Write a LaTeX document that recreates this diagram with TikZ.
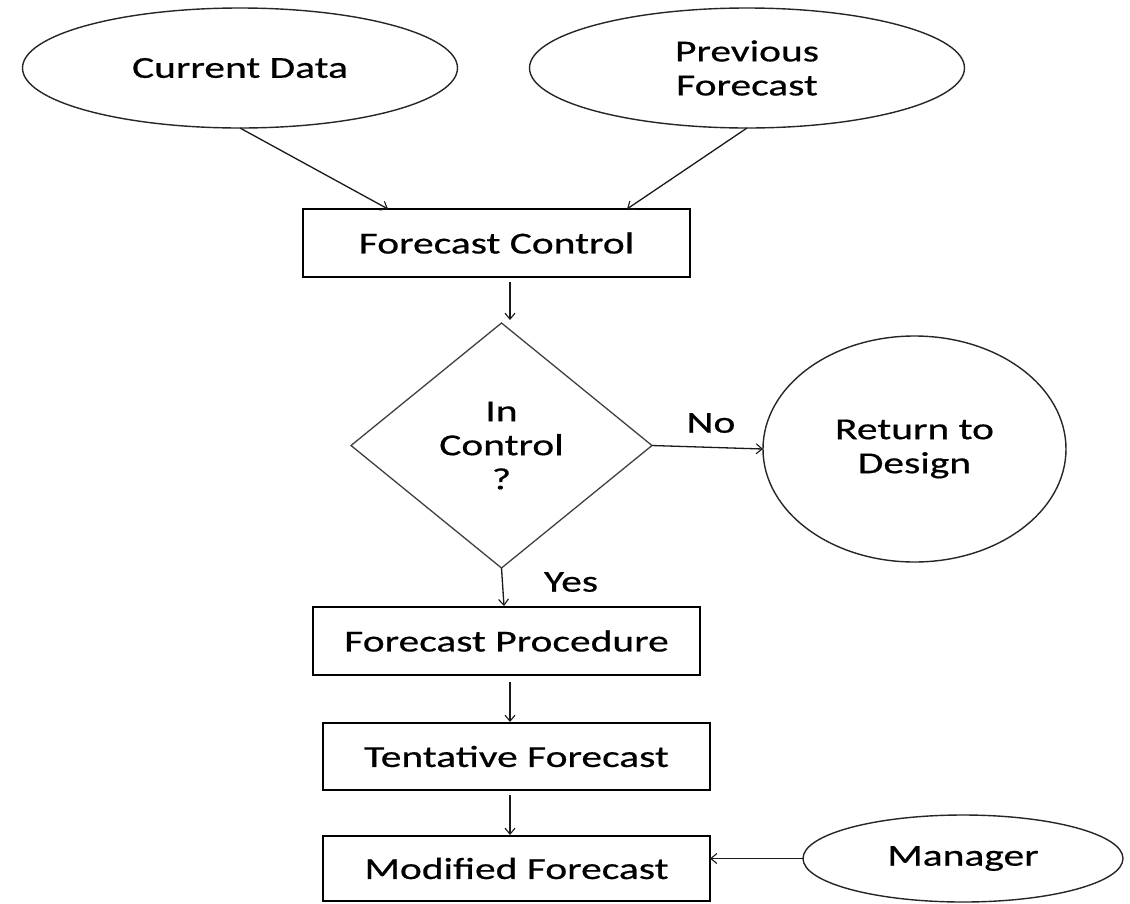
\documentclass[tikz,border=0pt]{standalone}
\usepackage{fontspec}
\setmainfont{Carlito}[FakeStretch=1.36,FakeBold=0.6]
\usetikzlibrary{shapes.geometric,arrows.meta}

\tikzset{
  lbl/.style={font=\fontsize{30.5}{34}\selectfont, text=black, align=center},
  boxnode/.style={lbl, draw=black, line width=1.5pt, rectangle, inner sep=0pt, outer sep=0pt,
                  minimum width=387pt},
  ovalnode/.style={lbl, draw=black!85, line width=1.4pt, ellipse, inner sep=0pt, outer sep=0pt},
  decision/.style={lbl, draw=black!75, line width=1.3pt, diamond, inner sep=0pt, outer sep=0pt,
                   minimum width=301pt, minimum height=245pt},
  arr/.style={draw=black!90, line width=1.3pt, -{Straight Barb[length=6pt,width=10pt,line width=1.1pt]}},
}

\begin{document}
\begin{tikzpicture}[x=1pt,y=-1pt]
  \useasboundingbox[fill=white] (0,0) rectangle (1130,903);

  % inputs
  \node[ovalnode, minimum width=435pt, minimum height=120pt] (cd) at (240,68) {Current Data};
  \node[ovalnode, minimum width=435pt, minimum height=120pt] (pf) at (747,68) {Previous\\Forecast};

  % control stage
  \node[boxnode, minimum height=68pt] (fc) at (496.5,243) {Forecast Control};
  \node[decision] (dia) at (501.5,445.5) {In\\Control\\?};
  \node[ovalnode, minimum width=303pt, minimum height=226pt] (rd) at (914.5,449) {Return to\\Design};

  % forecasting stage
  \node[boxnode, minimum height=68pt] (fp) at (506.5,641) {Forecast Procedure};
  \node[boxnode, minimum height=67pt] (tf) at (516.5,756.5) {Tentative Forecast};
  \node[boxnode, minimum height=65pt] (mf) at (516.5,868.5) {Modified Forecast};
  \node[ovalnode, minimum width=320pt, minimum height=87pt] (mg) at (963,858.5) {Manager};

  % branch labels
  \node[lbl] (nolbl) at (711,423) {No};
  \node[lbl] (yeslbl) at (571,582) {Yes};

  % connectors
  \draw[arr] (cd.south) -- ([xshift=85pt]fc.north west);
  \draw[arr] (pf.south) -- ([xshift=-63pt]fc.north east);
  \draw[arr] ([xshift=13.5pt,yshift=-5pt]fc.south) -- ([xshift=8.5pt,yshift=3pt]dia.north);
  \draw[arr] (dia.east) -- (rd.west);
  \draw[arr] (dia.south) -- ([xshift=-2.5pt,yshift=1pt]fp.north);
  \draw[arr] ([xshift=3.5pt,yshift=-7pt]fp.south) -- ([xshift=-6.5pt,yshift=1pt]tf.north);
  \draw[arr] ([xshift=-6.5pt,yshift=-5pt]tf.south) -- ([xshift=-6.5pt,yshift=1pt]mf.north);
  \draw[arr] (mg.west) -- (mg.west -| mf.east);
\end{tikzpicture}
\end{document}
